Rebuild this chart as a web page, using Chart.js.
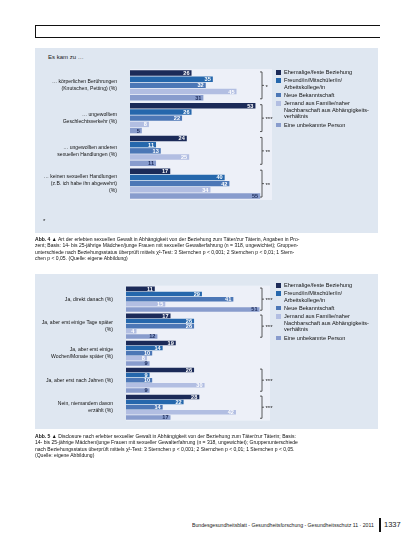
<!DOCTYPE html>
<html lang="de">
<head>
<meta charset="utf-8">
<script src="https://cdn.jsdelivr.net/npm/chart.js@4.4.1/dist/chart.umd.min.js"></script>
<style>
  html, body { margin: 0; padding: 0; background: #fff; }
  body { width: 413px; height: 550px; position: relative; overflow: hidden;
         font-family: "Liberation Sans", Arial, sans-serif; color: #1a1a1a; }
  .abs { position: absolute; }
  .topbox { left: 35px; top: 25px; width: 344px; height: 11px; border: 1.5px solid #111; border-right: none; }
  .panel { left: 35px; width: 343px; background: #dfe7f1; }
  .legend { font-size: 5.6px; line-height: 6.6px; width: 100px; color: #111; }
  .legend .item { position: relative; padding-left: 8px; margin-bottom: 1.6px; }
  .legend .sw { position: absolute; left: 0; top: 1px; width: 4.5px; height: 4.5px; }
  .caption { left: 35px; font-size: 5.6px; line-height: 6.4px; white-space: nowrap; color: #111;
             transform: scaleX(0.9); transform-origin: 0 0; }
  .caption b { font-weight: bold; }
  .note { left: 43px; top: 218px; font-size: 6px; }
  .head { left: 48px; top: 54px; font-size: 6px; }
  .footer { left: 192px; top: 522px; font-size: 5.6px; white-space: nowrap; transform: scaleX(0.92); transform-origin: 0 0; }
  .pagebar { left: 379px; top: 518px; width: 2px; height: 14px; background: #111; }
  .pagenum { left: 384px; top: 520px; font-size: 7.5px; }
</style>
</head>
<body>

<div class="abs topbox"></div>

<div class="abs panel" style="top:48px;height:185px;"></div>
<div class="abs head">Es kam zu …</div>
<canvas id="chart1" class="abs" style="left:35px;top:48px;" width="343" height="185"></canvas>
<div id="legend1" class="abs legend" style="left:276px;top:69px;"></div>
<div class="abs note">*</div>

<div class="abs caption" style="top:236px;">
  <div><b>Abb. 4 ▲</b> Art der erlebten sexuellen Gewalt in Abhängigkeit von der Beziehung zum Täter/zur Täterin, Angaben in Pro-</div>
  <div>zent; Basis: 14- bis 25-jährige Mädchen/junge Frauen mit sexueller Gewalterfahrung (n = 318, ungewichtet); Gruppen-</div>
  <div>unterschiede nach Beziehungsstatus überprüft mittels χ²-Test: 3 Sternchen p &lt; 0,001; 2 Sternchen p &lt; 0,01; 1 Stern-</div>
  <div>chen p &lt; 0,05. (Quelle: eigene Abbildung)</div>
</div>

<div class="abs panel" style="top:274px;height:155px;"></div>
<canvas id="chart2" class="abs" style="left:35px;top:274px;" width="343" height="155"></canvas>
<div id="legend2" class="abs legend" style="left:276px;top:282px;"></div>

<div class="abs caption" style="top:433px;">
  <div><b>Abb. 5 ▲</b> Disclosure nach erlebter sexueller Gewalt in Abhängigkeit von der Beziehung zum Täter/zur Täterin; Basis:</div>
  <div>14- bis 25-jährige Mädchen/junge Frauen mit sexueller Gewalterfahrung (n = 318, ungewichtet); Gruppenunterschiede</div>
  <div>nach Beziehungsstatus überprüft mittels χ²-Test: 3 Sternchen p &lt; 0,001; 2 Sternchen p &lt; 0,01; 1 Sternchen p &lt; 0,05.</div>
  <div>(Quelle: eigene Abbildung)</div>
</div>

<div class="abs footer">Bundesgesundheitsblatt - Gesundheitsforschung - Gesundheitsschutz 11 · 2011</div>
<div class="abs pagebar"></div>
<div class="abs pagenum">1337</div>

<script>
const FONT = '"Liberation Sans", Arial, sans-serif';

// Legende (gilt für beide Abbildungen)
const seriesNames = [
  ["Ehemalige/feste Beziehung"],
  ["Freund/in/Mitschüler/in/", "Arbeitskollege/in"],
  ["Neue Bekanntschaft"],
  ["Jemand aus Familie/naher", "Nachbarschaft aus Abhängigkeits-", "verhältnis"],
  ["Eine unbekannte Person"]
];
const seriesColors = ["#1b2a58", "#2567ac", "#4c77b6", "#b2bee2", "#889ccd"];
const labelColors = ["#fff", "#fff", "#fff", "#fff", "#1b2a58"];

// Abb. 4 – Art der sexuellen Gewalt
const categories1 = [
  ["… körperlichen Berührungen", "(Knutschen, Petting) (%)"],
  ["… ungewolltem", "Geschlechtsverkehr (%)"],
  ["… ungewollten anderen", "sexuellen Handlungen (%)"],
  ["… keinen sexuellen Handlungen", "(z.B. ich habe ihn abgewehrt)", "(%)"]
];
const ehemalig1 = [26, 53, 24, 17];
const freund1 = [35, 26, 11, 40];
const bekannt1 = [32, 22, 13, 42];
const familie1 = [45, 8, 25, 34];
const unbekannt1 = [31, 5, 11, 55];
const stars1 = ["*", "***", "**", "**"];

// Abb. 5 – Disclosure
const categories2 = [
  ["Ja, direkt danach (%)"],
  ["Ja, aber erst einige Tage später", "(%)"],
  ["Ja, aber erst einige", "Wochen/Monate später (%)"],
  ["Ja, aber erst nach Jahren (%)"],
  ["Nein, niemandem davon", "erzählt (%)"]
];
const ehemalig2 = [11, 17, 19, 26, 28];
const freund2 = [29, 26, 14, 9, 22];
const bekannt2 = [41, 26, 10, 10, 14];
const familie2 = [15, 4, 8, 30, 42];
const unbekannt2 = [51, 12, 9, 9, 17];
const stars2 = ["***", "***", "", "***", "***"];

function buildLegend(id) {
  const box = document.getElementById(id);
  seriesNames.forEach((lines, i) => {
    const item = document.createElement("div");
    item.className = "item";
    item.innerHTML = `<span class="sw" style="background:${seriesColors[i]}"></span>` + lines.join("<br>");
    box.appendChild(item);
  });
}

const plotBg = {
  id: "plotBg",
  beforeDraw(chart) {
    const a = chart.chartArea;
    chart.ctx.save();
    chart.ctx.fillStyle = "#edf0f8";
    chart.ctx.fillRect(a.left, a.top, a.right - a.left, a.bottom - a.top);
    chart.ctx.restore();
  }
};

const barLabels = {
  id: "barLabels",
  afterDatasetsDraw(chart) {
    const ctx = chart.ctx;
    ctx.save();
    ctx.font = "bold 5.6px " + FONT;
    ctx.textAlign = "right";
    ctx.textBaseline = "middle";
    chart.data.datasets.forEach((ds, i) => {
      chart.getDatasetMeta(i).data.forEach((bar, j) => {
        ctx.fillStyle = labelColors[i];
        ctx.fillText(ds.data[j], bar.x - 2, bar.y + 0.5);
      });
    });
    ctx.restore();
  }
};

const brackets = {
  id: "brackets",
  afterDraw(chart, args, opts) {
    const ctx = chart.ctx;
    const y = chart.scales.y;
    const half = (y.getPixelForValue(1) - y.getPixelForValue(0)) * 0.41;
    const x = chart.chartArea.right - opts.inset;
    ctx.save();
    ctx.strokeStyle = "#333";
    ctx.lineWidth = 0.8;
    ctx.fillStyle = "#222";
    ctx.font = "6px " + FONT;
    ctx.textBaseline = "middle";
    opts.stars.forEach((s, i) => {
      if (!s) return;
      const c = y.getPixelForValue(i);
      ctx.beginPath();
      ctx.moveTo(x - 2, c - half);
      ctx.lineTo(x, c - half);
      ctx.lineTo(x, c + half);
      ctx.lineTo(x - 2, c + half);
      ctx.moveTo(x, c);
      ctx.lineTo(x + 2, c);
      ctx.stroke();
      ctx.fillText(s, x + 3.5, c + 1.5);
    });
    ctx.restore();
  }
};

function makeChart(id, cats, series, xMax, stars, axisWidth, pad, inset) {
  new Chart(document.getElementById(id), {
    type: "bar",
    data: {
      labels: cats,
      datasets: series.map((vals, i) => ({
        label: seriesNames[i].join(" "),
        data: vals,
        backgroundColor: seriesColors[i],
        borderWidth: 0,
        barPercentage: 0.88,
        categoryPercentage: 0.95
      }))
    },
    options: {
      indexAxis: "y",
      responsive: false,
      animation: false,
      devicePixelRatio: 1,
      layout: { padding: pad },
      plugins: {
        legend: { display: false },
        tooltip: { enabled: false },
        brackets: { stars: stars, inset: inset }
      },
      scales: {
        x: { display: false, min: 0, max: xMax },
        y: {
          grid: { display: false },
          border: { display: false },
          ticks: { color: "#111", padding: 5, font: { family: FONT, size: 5.1, lineHeight: 1.3 } },
          afterFit(scale) { scale.width = axisWidth; }
        }
      }
    },
    plugins: [plotBg, barLabels, brackets]
  });
}

buildLegend("legend1");
buildLegend("legend2");

makeChart("chart1", categories1,
  [ehemalig1, freund1, bekannt1, familie1, unbekannt1],
  60, stars1, 95, { left: 0, right: 106, top: 21, bottom: 33 }, 10);

makeChart("chart2", categories2,
  [ehemalig2, freund2, bekannt2, familie2, unbekannt2],
  55, stars2, 91, { left: 0, right: 108, top: 9, bottom: 8 }, 8);
</script>
</body>
</html>
